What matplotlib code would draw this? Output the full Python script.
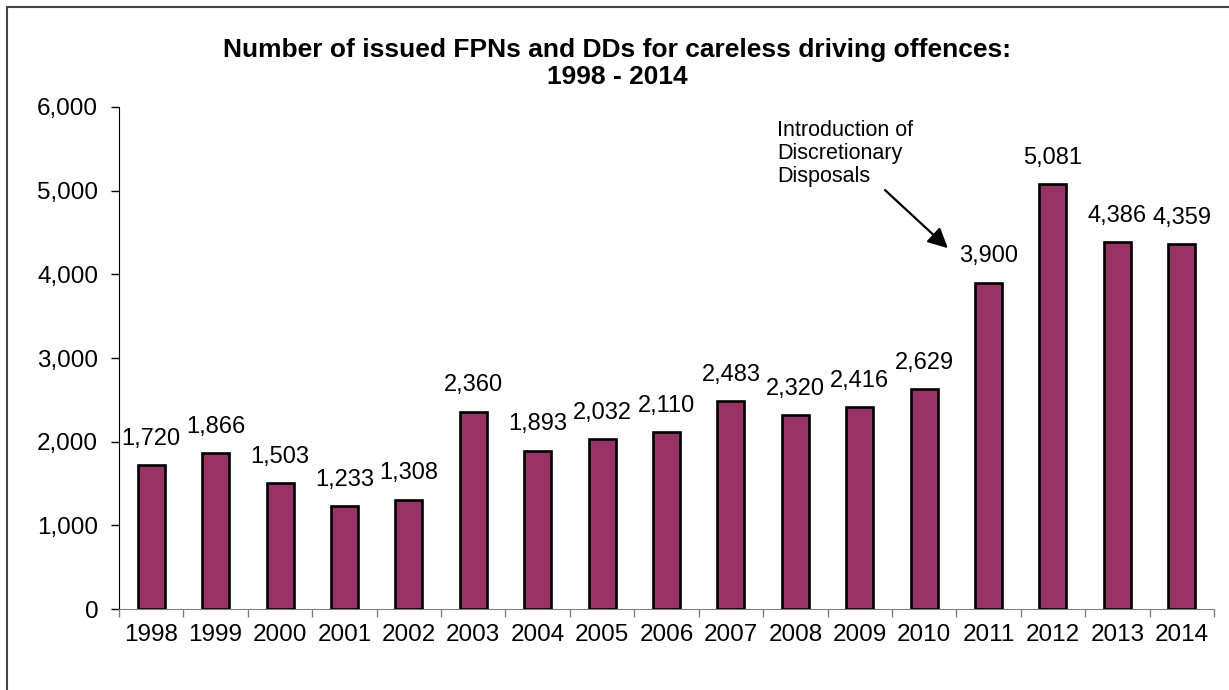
import matplotlib.pyplot as plt
from matplotlib.patches import Rectangle
from matplotlib.ticker import FuncFormatter

plt.rcParams['font.family'] = ['Liberation Sans', 'DejaVu Sans']

years = ['1998', '1999', '2000', '2001', '2002', '2003', '2004', '2005', '2006',
         '2007', '2008', '2009', '2010', '2011', '2012', '2013', '2014']
counts = [1720, 1866, 1503, 1233, 1308, 2360, 1893, 2032, 2110,
          2483, 2320, 2416, 2629, 3900, 5081, 4386, 4359]

title = 'Number of issued FPNs and DDs for careless driving offences:\n1998 - 2014'
note = 'Introduction of\nDiscretionary\nDisposals'

fig = plt.figure(figsize=(12.29, 6.9), dpi=100)
ax = fig.add_axes([119 / 1229, 1 - 609 / 690, (1214 - 119) / 1229, (609 - 107) / 690])

x = list(range(len(years)))
ax.bar(x, counts, width=0.42, color='#993366', edgecolor='black', linewidth=1.9, zorder=3)

# etiquetas de valor encima de cada barra
for xi, v in zip(x, counts):
    ax.annotate(f'{v:,}', (xi, v), xytext=(0, 11), textcoords='offset points',
                ha='center', va='bottom', fontsize=17)

ax.set_xlim(-0.5, len(years) - 0.5)
ax.set_ylim(0, 6000)
ax.set_yticks(range(0, 6001, 1000))
ax.yaxis.set_major_formatter(FuncFormatter(lambda v, p: f'{int(v):,}'))

# ticks mayores entre categorías, etiquetas en el centro
ax.set_xticks([i - 0.5 for i in range(len(years) + 1)])
ax.set_xticklabels([])
ax.set_xticks(x, minor=True)
ax.set_xticklabels(years, minor=True, fontsize=17.5)
ax.tick_params(axis='x', which='major', length=6, color='#808080', width=1)
ax.tick_params(axis='x', which='minor', length=0, pad=11)
ax.tick_params(axis='y', length=6, width=1, pad=9, labelsize=17.5)

for s in ['top', 'right']:
    ax.spines[s].set_visible(False)
ax.spines['left'].set_color('black')
ax.spines['bottom'].set_color('#808080')

# anotación
ax.annotate('', xy=(12.4, 4290), xytext=(11.36, 5030),
            arrowprops=dict(arrowstyle='-|>', color='black', lw=1.6, mutation_scale=30))
ax.text(9.72, 5840, note, ha='left', va='top', fontsize=15.5, linespacing=1.12)

fig.text(0.502, 1 - 38 / 690, title, ha='center', va='top', fontsize=19,
         fontweight='bold', linespacing=1.18)

# marco exterior (solo se ven los bordes izquierdo y superior)
fig.patches.append(Rectangle((7 / 1229, -0.1), 1.2, 1 - 7 / 690 + 0.1,
                             transform=fig.transFigure, fill=False,
                             edgecolor='#444444', linewidth=1.5))

plt.savefig('out.png', dpi=100)
